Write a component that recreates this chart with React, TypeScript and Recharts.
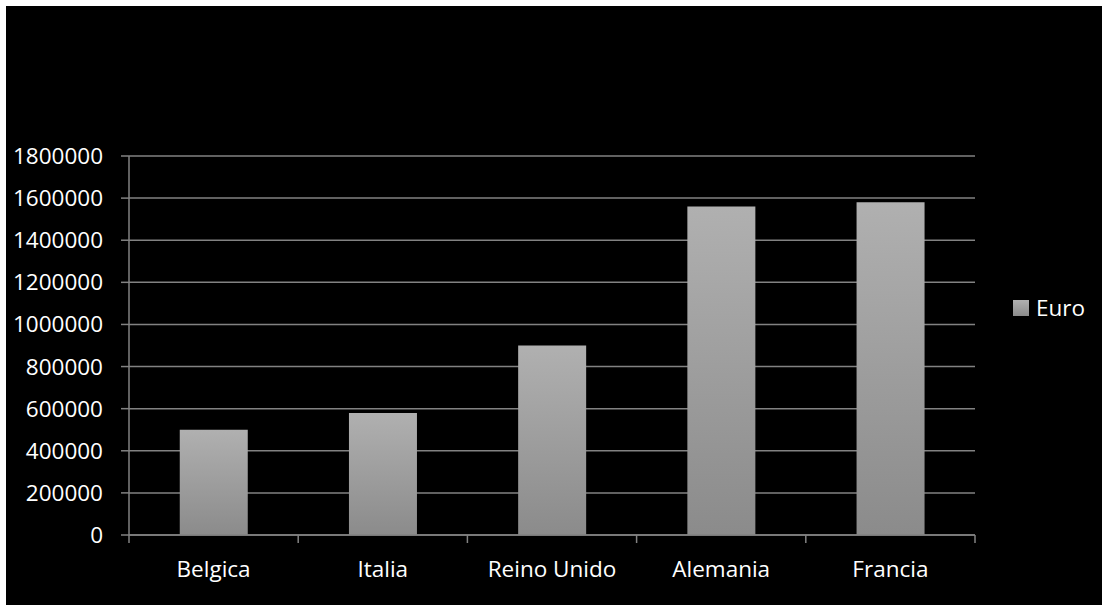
import { BarChart, Bar, XAxis, YAxis, CartesianGrid } from "recharts";

const countries = ["Belgica", "Italia", "Reino Unido", "Alemania", "Francia"];
const euroValues = [500000, 580000, 900000, 1560000, 1580000];
const yTicks = [0, 200000, 400000, 600000, 800000, 1000000, 1200000, 1400000, 1600000, 1800000];
const seriesName = "Euro";

const data = countries.map((c, i) => ({ country: c, euro: euroValues[i] }));

const W = 1096;
const H = 599;
const margin = { top: 150, right: 127, left: 0, bottom: 0 };
const yAxisWidth = 123;
const plotWidth = W - margin.left - margin.right - yAxisWidth;
const step = plotWidth / countries.length;

const gridColor = "#828282";
const font = "'Open Sans', sans-serif";
const fontSize = 22.5;

// Excel-style category ticks: marks sit between categories, not under them
// eslint-disable-next-line @typescript-eslint/no-explicit-any
const CategoryTick = ({ x, y, payload, index }: any) => (
  <g>
    <line x1={x - step / 2} x2={x - step / 2} y1={y} y2={y + 8} stroke={gridColor} strokeWidth={1.5} />
    {index === countries.length - 1 && (
      <line x1={x + step / 2} x2={x + step / 2} y1={y} y2={y + 8} stroke={gridColor} strokeWidth={1.5} />
    )}
    <text x={x} y={y + 42} textAnchor="middle" fill="#ffffff" fontFamily={font} fontSize={fontSize}>
      {payload.value}
    </text>
  </g>
);

export default function App() {
  return (
    <div style={{ position: "fixed", left: 6, top: 6, right: 0, bottom: 0, background: "#000", overflow: "hidden" }}>
      <BarChart width={W} height={H} data={data} margin={margin} barCategoryGap="30%">
        <defs>
          <linearGradient id="euroGrad" x1="0" y1="0" x2="0" y2="1">
            <stop offset="0%" stopColor="#b0b0b0" />
            <stop offset="100%" stopColor="#8b8b8b" />
          </linearGradient>
        </defs>
        <CartesianGrid vertical={false} stroke={gridColor} strokeWidth={1.5} />
        <XAxis
          dataKey="country"
          height={70}
          tickSize={0}
          tickMargin={0}
          interval={0}
          axisLine={{ stroke: gridColor, strokeWidth: 1.5 }}
          tickLine={false}
          tick={<CategoryTick />}
        />
        <YAxis
          width={yAxisWidth}
          domain={[0, 1800000]}
          ticks={yTicks}
          interval={0}
          tickSize={8}
          tickMargin={18}
          axisLine={{ stroke: gridColor, strokeWidth: 1.5 }}
          tickLine={{ stroke: gridColor, strokeWidth: 1.5 }}
          tick={{ fill: "#ffffff", fontFamily: font, fontSize }}
        />
        <Bar dataKey="euro" name={seriesName} fill="url(#euroGrad)" isAnimationActive={false} />
      </BarChart>
      <div
        style={{
          position: "absolute", left: 1007, top: 286,
          display: "flex", alignItems: "center", gap: 7,
          color: "#fff", fontFamily: font, fontSize,
        }}
      >
        <span style={{ width: 16, height: 16, background: "linear-gradient(#b0b0b0,#8b8b8b)", display: "inline-block" }} />
        <span>{seriesName}</span>
      </div>
    </div>
  );
}
